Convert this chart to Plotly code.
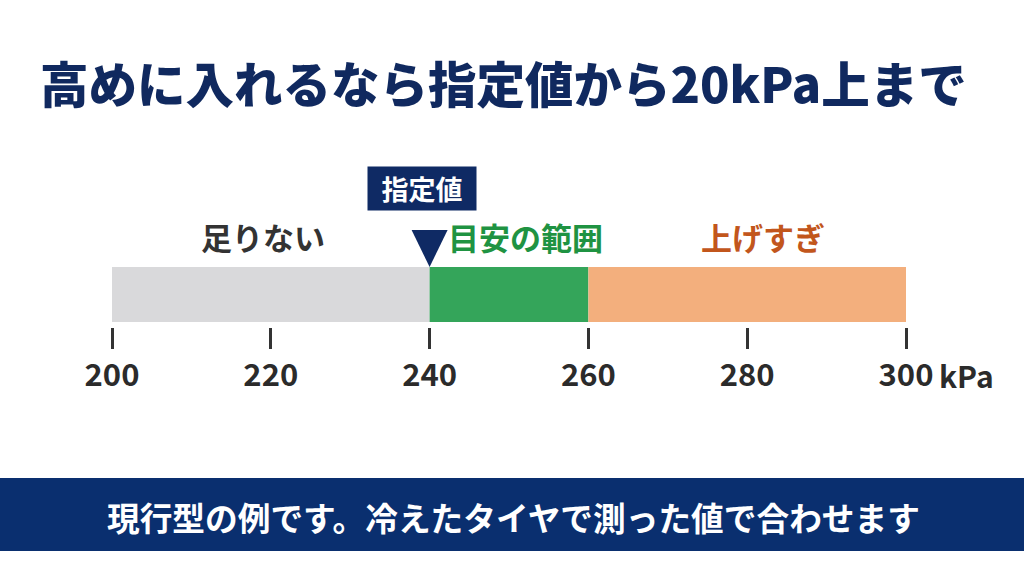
import plotly.graph_objects as go

# ---- data ----
title_text = "高めに入れるなら指定値から20kPa上まで"
footer_text = "現行型の例です。冷えたタイヤで測った値で合わせます"
seg_labels = ["足りない", "目安の範囲", "上げすぎ"]
seg_start = [200, 240, 260]
seg_end = [240, 260, 300]
seg_colors = ["#d9d9db", "#34a55a", "#f3af7d"]
label_colors = ["#333333", "#1f9342", "#c2561c"]
spec_value = 240
spec_label = "指定値"
tick_vals = [200, 220, 240, 260, 280, 300]
tick_text = ["200", "220", "240", "260", "280", "300"]
unit_label = "kPa"

FONT = "Noto Sans CJK JP"
W, H = 1024, 576
NAVY = "#0f2a64"

# pixel mapping of the axis: 200 -> 112 px, 300 -> 906 px
px0, px1 = 112, 906
k = (px1 - px0) / (seg_end[-1] - seg_start[0])
xmin = seg_start[0] - px0 / k
xmax = seg_end[-1] + (W - px1) / k

# y axis in pixel units, bar centred at 0
bar_top, bar_bot = 267, 322
bar_c = (bar_top + bar_bot) / 2
ymin, ymax = -(H - bar_c), bar_c

fig = go.Figure()
for s, e, c in zip(seg_start, seg_end, seg_colors):
    fig.add_trace(go.Bar(
        orientation="h", y=[0], x=[e - s], base=[s], width=bar_bot - bar_top,
        marker=dict(color=c, line=dict(width=0)), hoverinfo="skip", showlegend=False,
    ))

# pointer triangle anchored at the spec value
fig.add_shape(
    type="path", xref="x", yref="paper", xsizemode="pixel", ysizemode="pixel",
    xanchor=spec_value, yanchor=1 - bar_top / H,
    path="M -18 37 L 18 37 L 0 0 Z", fillcolor=NAVY, line=dict(width=0),
)

# spec label box
fig.add_annotation(
    x=spec_value, xref="x", y=1 - 188.5 / H, yref="paper", text=f"<b>{spec_label}</b>",
    showarrow=False, bgcolor=NAVY, width=108, height=43, borderpad=0, xshift=-8,
    font=dict(family=FONT, size=27, color="white"), xanchor="center", yanchor="middle",
)

# segment labels
shifts = [-8, 16, 16]
for lab, s, e, col, sh in zip(seg_labels, seg_start, seg_end, label_colors, shifts):
    fig.add_annotation(
        x=(s + e) / 2, xref="x", y=1 - 237 / H, yref="paper", text=lab, xshift=sh,
        showarrow=False, xanchor="center", yanchor="middle",
        font=dict(family=FONT, size=31, color=col, weight=700),
    )

# unit after 300
fig.add_annotation(
    x=tick_vals[-1], xref="x", y=1 - 375 / H, yref="paper", text=unit_label,
    xshift=31, showarrow=False, xanchor="left", yanchor="middle",
    font=dict(family=FONT, size=30, color="#2b2b2b", weight=700),
)

# title
fig.add_annotation(
    x=503.5 / W, xref="paper", y=1 - 82 / H, yref="paper", text=title_text,
    showarrow=False, xanchor="center", yanchor="middle",
    font=dict(family=FONT, size=48.5, color="#10295f", weight=900),
)

# footer banner
fig.add_shape(type="rect", xref="paper", yref="paper", x0=0, x1=1,
              y0=1 - 551 / H, y1=1 - 478 / H, fillcolor="#0a2f6f", line=dict(width=0),
              layer="below")
fig.add_annotation(
    x=513 / W, xref="paper", y=1 - 516 / H, yref="paper", text=footer_text,
    showarrow=False, xanchor="center", yanchor="middle",
    font=dict(family=FONT, size=32.7, color="white", weight=700),
)

fig.update_layout(
    width=W, height=H, margin=dict(l=0, r=0, t=0, b=0),
    paper_bgcolor="white", plot_bgcolor="white", barmode="overlay",
    xaxis=dict(range=[xmin, xmax], anchor="free", position=1 - 326.5 / H,
               showgrid=False, zeroline=False, showline=False,
               ticks="outside", ticklen=21, tickwidth=3, tickcolor="#333333",
               tickvals=tick_vals, ticktext=tick_text,
               tickfont=dict(family=FONT, size=31, color="#2b2b2b", weight=700),
               fixedrange=True),
    yaxis=dict(range=[ymin, ymax], visible=False, fixedrange=True),
)

fig.write_html("out.html", config={"displayModeBar": False},
               post_script="document.body.style.margin='0';document.body.style.overflow='hidden';")
